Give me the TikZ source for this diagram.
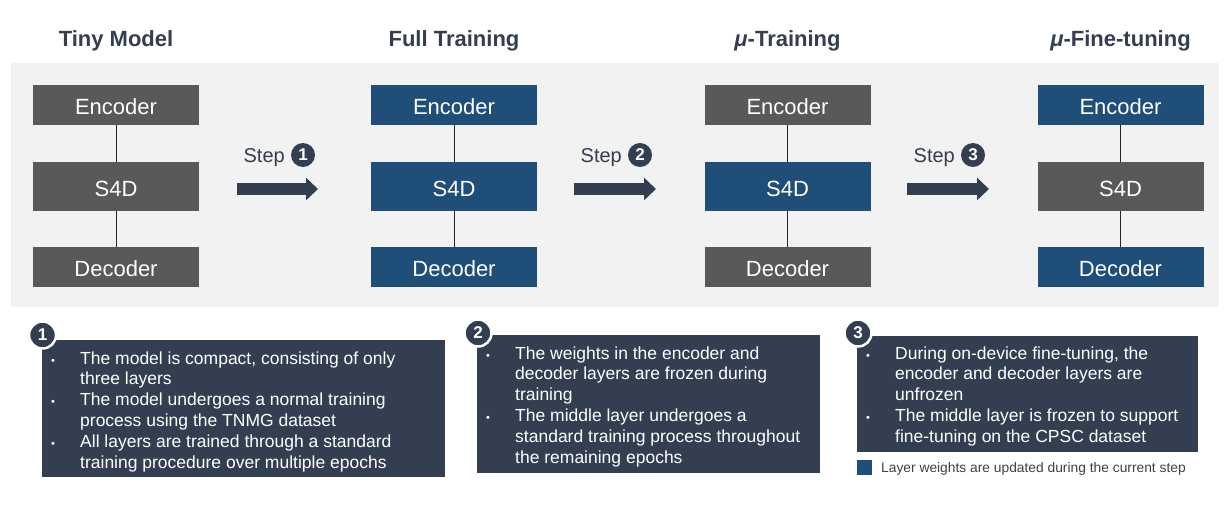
\documentclass[tikz,border=0pt]{standalone}
\usepackage{fontspec}
\setmainfont{Liberation Sans}
\usetikzlibrary{arrows.meta}
\definecolor{slate}{HTML}{333F50}
\definecolor{panelgray}{HTML}{F2F2F2}
\definecolor{frozen}{HTML}{595959}
\definecolor{trained}{HTML}{1F4E79}
\definecolor{legendtext}{HTML}{404040}
\definecolor{linkcol}{HTML}{262626}
\begin{document}
\begin{tikzpicture}[x=1pt,y=-1pt,
  layer/.style={minimum width=166pt, inner sep=0pt, text=white, text height=19.8pt, text depth=0pt, font=\fontsize{22}{26}\selectfont},
  enc/.style={layer, minimum height=40pt},
  mid/.style={layer, minimum height=49pt},
  gl/.style={fill=frozen},
  bl/.style={fill=trained},
  link/.style={draw=linkcol, line width=1pt},
  title/.style={text=slate, font=\fontsize{22}{26}\selectfont\bfseries},
  bigarrow/.style={draw=slate, line width=12pt, -{Triangle[length=12pt,width=22pt]}},
  steplbl/.style={text=slate, font=\fontsize{20}{24}\selectfont, inner sep=0pt, anchor=base east},
  numdot/.style={circle, fill=slate, text=white, inner sep=0pt, minimum size=24pt, font=\fontsize{17}{17}\selectfont\bfseries},
  marker/.style={numdot, draw=white, line width=2.5pt, minimum size=27pt},
  tbox/.style={fill=slate, inner sep=0pt, anchor=north west},
  btext/.style={text=white, inner sep=0pt, anchor=base west, font=\fontsize{17.5}{20.8}\selectfont}
]
\useasboundingbox (0,0) rectangle (1224,506);
\fill[panelgray] (11,63) rectangle (1219,307);

% titles
\node[title] (t1) at (116,40.5) {Tiny Model};
\node[title] (t2) at (454,40.5) {Full Training};
\node[title] (t3) at (787.5,40.5) {\textit{μ}-Training};
\node[title] (t4) at (1120.5,40.5) {\textit{μ}-Fine-tuning};

% column 1
\node[enc,gl] (e1) at (116,105) {Encoder};
\node[mid,gl] (m1) at (116,186.5) {S4D};
\node[enc,gl] (d1) at (116,267) {Decoder};
% column 2
\node[enc,bl] (e2) at (454,105) {Encoder};
\node[mid,bl] (m2) at (454,186.5) {S4D};
\node[enc,bl] (d2) at (454,267) {Decoder};
% column 3
\node[enc,gl] (e3) at (787.5,105) {Encoder};
\node[mid,bl] (m3) at (787.5,186.5) {S4D};
\node[enc,gl] (d3) at (787.5,267) {Decoder};
% column 4
\node[enc,bl] (e4) at (1120.5,105) {Encoder};
\node[mid,gl] (m4) at (1120.5,186.5) {S4D};
\node[enc,bl] (d4) at (1120.5,267) {Decoder};

\foreach \c in {1,2,3,4}{
  \draw[link] (e\c.south) -- (m\c.north);
  \draw[link] (m\c.south) -- (d\c.north);
}

% step arrows
\coordinate (a1s) at (237,189); \coordinate (a1e) at (318,189);
\coordinate (a2s) at (574,189); \coordinate (a2e) at (656,189);
\coordinate (a3s) at (907,189); \coordinate (a3e) at (989,189);
\draw[bigarrow] (a1s) -- (a1e);
\draw[bigarrow] (a2s) -- (a2e);
\draw[bigarrow] (a3s) -- (a3e);

\node[steplbl] (s1) at (285,162) {Step};
\node[numdot] (n1) at (303,155) {1};
\node[steplbl] (s2) at (622,162) {Step};
\node[numdot] (n2) at (640,155) {2};
\node[steplbl] (s3) at (955,162) {Step};
\node[numdot] (n3) at (973,155) {3};

% description boxes
\node[tbox, minimum width=403pt, minimum height=137pt] (b1) at (42,340) {};
\node[tbox, minimum width=343pt, minimum height=138pt] (b2) at (477,335) {};
\node[tbox, minimum width=341pt, minimum height=116pt] (b3) at (857,336) {};

\node[btext] (x1) at (51,364) {\begin{tabular}[t]{@{}p{29pt}@{}l@{}}
{\fontsize{11}{11}\selectfont •} & The model is compact, consisting of only\\
 & three layers\\
{\fontsize{11}{11}\selectfont •} & The model undergoes a normal training\\
 & process using the TNMG dataset\\
{\fontsize{11}{11}\selectfont •} & All layers are trained through a standard\\
 & training procedure over multiple epochs
\end{tabular}};

\node[btext] (x2) at (486,359) {\begin{tabular}[t]{@{}p{29pt}@{}l@{}}
{\fontsize{11}{11}\selectfont •} & The weights in the encoder and\\
 & decoder layers are frozen during\\
 & training\\
{\fontsize{11}{11}\selectfont •} & The middle layer undergoes a\\
 & standard training process throughout\\
 & the remaining epochs
\end{tabular}};

\node[btext] (x3) at (866,359) {\begin{tabular}[t]{@{}p{29pt}@{}l@{}}
{\fontsize{11}{11}\selectfont •} & During on-device fine-tuning, the\\
 & encoder and decoder layers are\\
 & unfrozen\\
{\fontsize{11}{11}\selectfont •} & The middle layer is frozen to support\\
 & fine-tuning on the CPSC dataset
\end{tabular}};

\node[marker] (k1) at (42.5,335) {1};
\node[marker] (k2) at (478,333) {2};
\node[marker] (k3) at (858,333) {3};

% legend
\node[fill=trained, minimum size=15pt, inner sep=0pt] (lg) at (864.5,467.5) {};
\node[text=legendtext, anchor=west, inner sep=0pt, font=\fontsize{13.8}{16}\selectfont] (lt) at (881,468.5) {Layer weights are updated during the current step};
\end{tikzpicture}
\end{document}
